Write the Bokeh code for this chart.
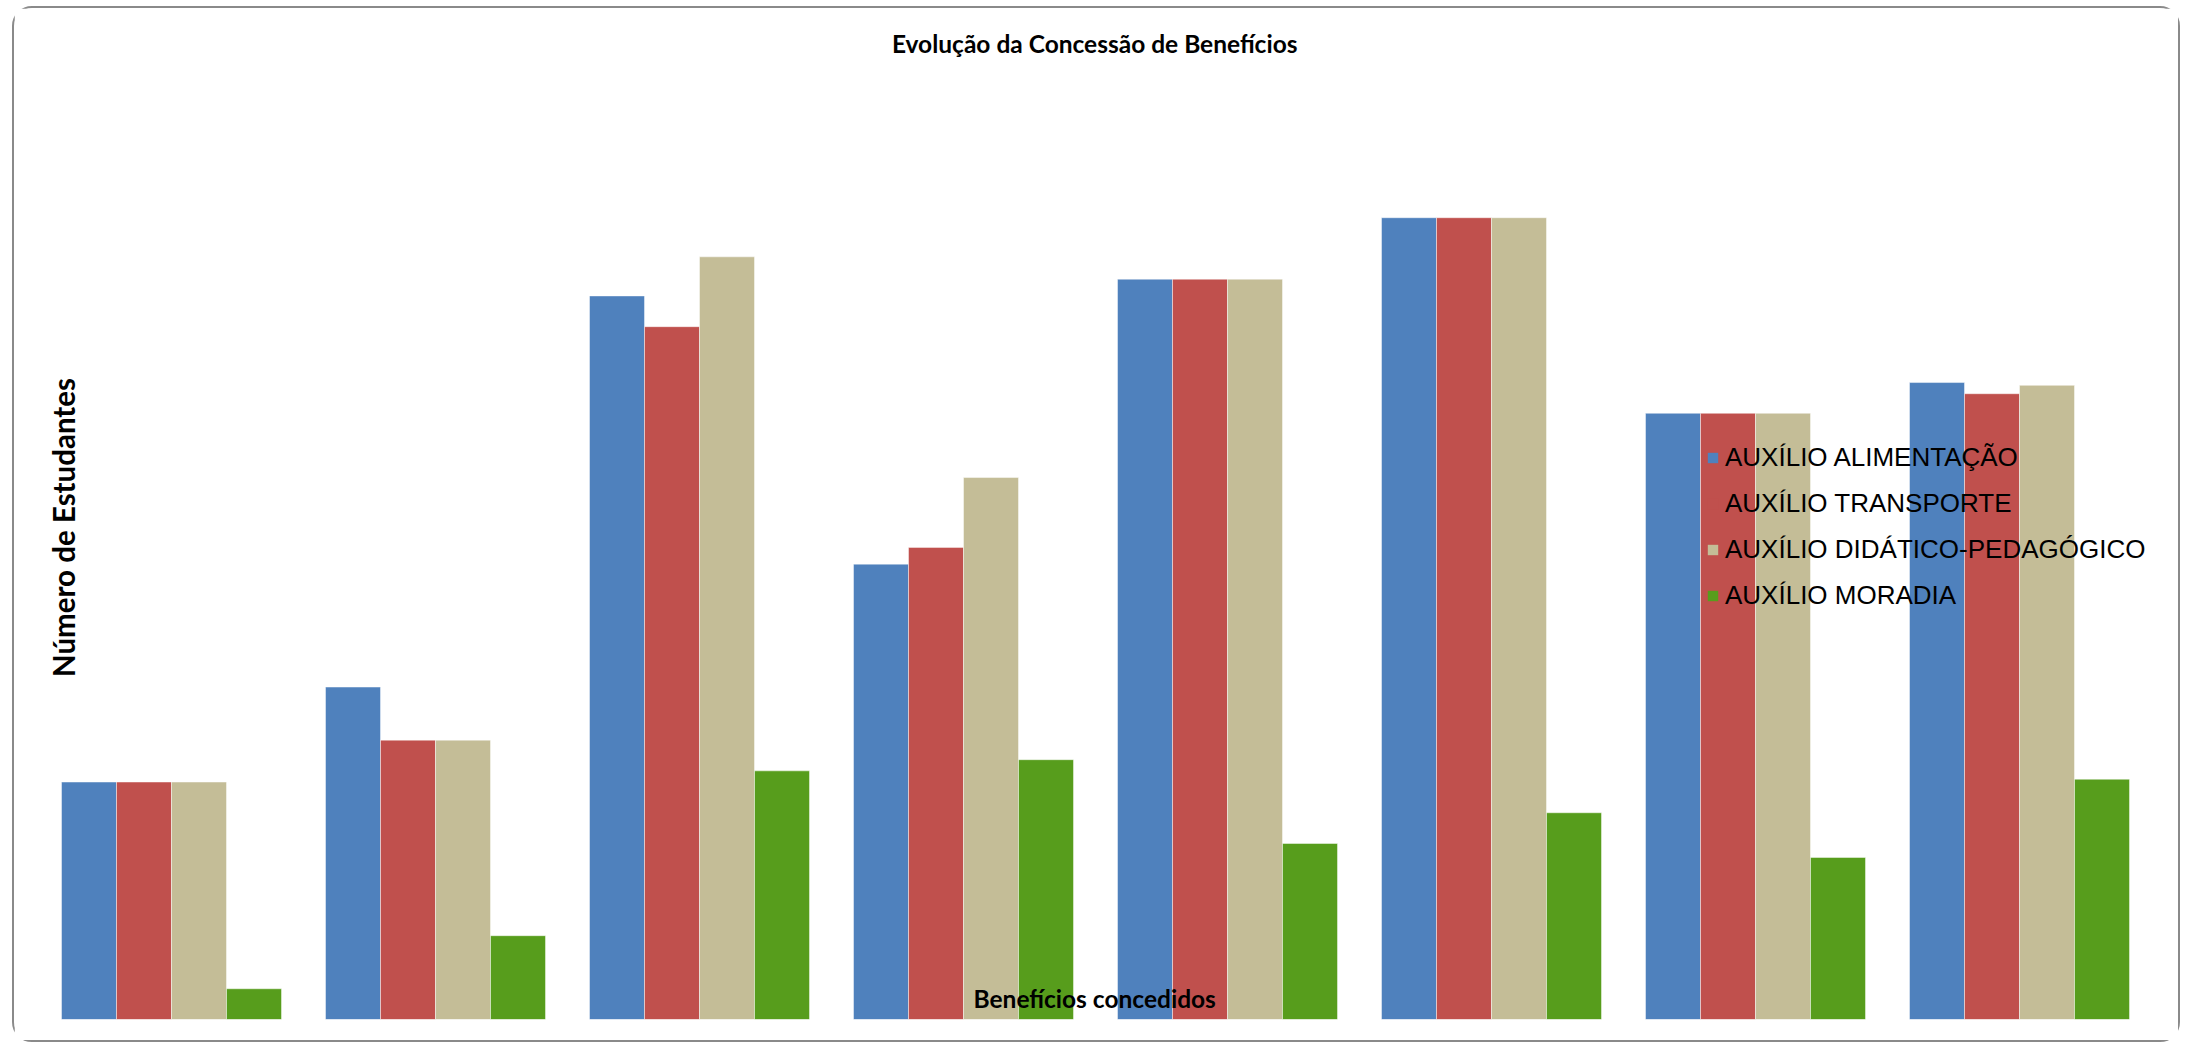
import math
import numpy as np
from bokeh.plotting import figure
from bokeh.models import ColumnDataSource, Range1d, Legend, LegendItem, Label
from bokeh.embed import file_html
from bokeh.resources import INLINE

# ---- data ----
categories = ["Período 1", "Período 2", "Período 3", "Período 4",
              "Período 5", "Período 6", "Período 7", "Período 8"]
series_names = ["AUXÍLIO ALIMENTAÇÃO", "AUXÍLIO TRANSPORTE",
                "AUXÍLIO DIDÁTICO-PEDAGÓGICO", "AUXÍLIO MORADIA"]
alimentacao = [85, 119, 259, 163, 265, 287, 217, 228]
transporte = [85, 100, 248, 169, 265, 287, 217, 224]
didatico = [85, 100, 273, 194, 265, 287, 217, 227]
moradia = [11, 30, 89, 93, 63, 74, 58, 86]
colors = ["#4F81BD", "#C0504D", "#C4BD97", "#579D1C"]

all_series = [alimentacao, transporte, didatico, moradia]

W, H = 2168, 1036
p = figure(width=W, height=H, output_backend="svg", toolbar_location=None,
           title=None, x_axis_location=None, y_axis_location=None,
           x_range=Range1d(-0.5, len(categories) - 0.5),
           y_range=Range1d(0, 357.6),
           min_border_left=25, min_border_right=31,
           min_border_top=12, min_border_bottom=25)
p.grid.visible = False
p.outline_line_color = None
p.background_fill_color = "white"
p.border_fill_color = "white"
p.styles = {"border": "2px solid #8a8a8a", "border-radius": "20px",
            "box-sizing": "border-box", "margin-left": "12px", "margin-top": "6px"}

bw = 55.0 / 264.0
items = []
for j, (name, vals, col) in enumerate(zip(series_names, all_series, colors)):
    xs = [i + (j - 1.5) * bw for i in range(len(categories))]
    src = ColumnDataSource(dict(x=xs, top=vals, cat=categories))
    p.vbar(x="x", top="top", bottom=0, width=bw, source=src,
           fill_color=col, line_color="white", line_alpha=0.45, line_width=1)
    # legend swatch (no outline, like the reference); draws nothing in the plot
    proxy = p.vbar(x=np.array([np.nan]), top=np.array([np.nan]), bottom=0, width=bw,
                   fill_color=col, line_color=None)
    items.append(LegendItem(label=name, renderers=[proxy]))

legend = Legend(items=items, location=(1667, 408),
                label_text_font="Liberation Sans", label_text_font_size="26px",
                label_text_color="black",
                glyph_width=13, glyph_height=13, label_standoff=6,
                spacing=15, label_height=31, padding=0, margin=0,
                border_line_color=None, background_fill_alpha=0)
p.add_layout(legend, "center")

p.add_layout(Label(x=3.497, y=349.4, text="Evolução da Concessão de Benefícios",
                   text_font="Lato", text_font_style="bold", text_font_size="24.5px",
                   text_align="center", text_baseline="middle", text_color="black"))
p.add_layout(Label(x=-0.409, y=176.1, text="Número de Estudantes", angle=math.pi / 2,
                   text_font="Lato", text_font_style="bold", text_font_size="29.5px",
                   text_align="center", text_baseline="middle", text_color="black"))
p.add_layout(Label(x=3.497, y=7.5, text="Benefícios concedidos",
                   text_font="Lato", text_font_style="bold", text_font_size="24.5px",
                   text_align="center", text_baseline="middle", text_color="black"))

open("out.html", "w").write(file_html(p, INLINE))
